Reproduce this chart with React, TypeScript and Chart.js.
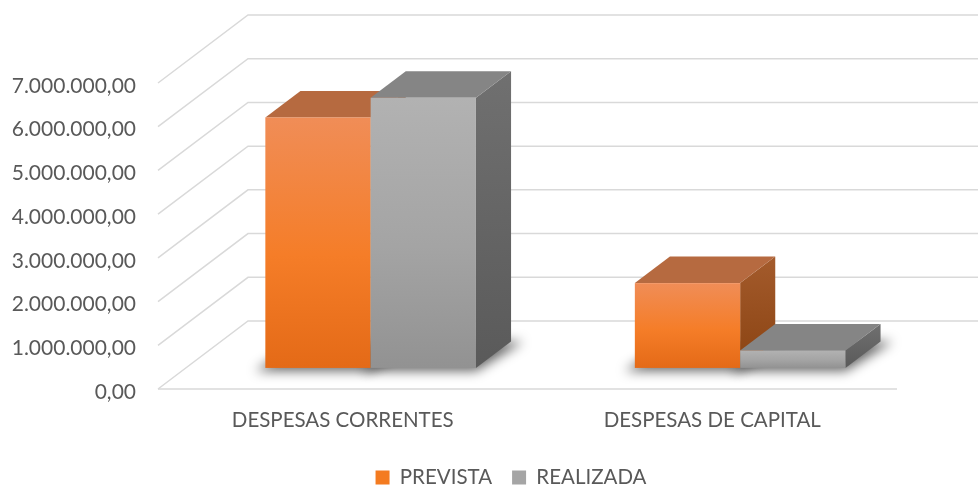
import React, { useEffect, useRef } from 'react';
import { Chart, registerables } from 'chart.js';

Chart.register(...registerables);

// ---- data ----
const categories = ['DESPESAS CORRENTES', 'DESPESAS DE CAPITAL'];
const seriesNames = ['PREVISTA', 'REALIZADA'];
const prevista = [5730000, 1940000];
const realizada = [6180000, 400000];
const yTicks = [0, 1000000, 2000000, 3000000, 4000000, 5000000, 6000000, 7000000];

// ---- styles ----
const FONT = 'Lato';
const TEXT = '#595959';
const GRID = '#D9D9D9';
const DEPTH_X = 90; // floor depth projection
const DEPTH_Y = -68;
const BAR_FRONT = 0.31; // fraction of floor depth where bars start
const BAR_DEPTH = 0.39; // fraction of floor depth occupied by bars
const LEGEND_SHIFT = 62.5; // legend is centred under the plot, not the canvas

const palettes = [
  {
    legend: '#F47B20',
    frontTop: '#F08D57',
    frontMid: '#F57D28',
    frontBottom: '#E46A17',
    top: '#B66A40',
    sideTop: '#A45B2C',
    sideBottom: '#8A4312',
  },
  {
    legend: '#A5A5A5',
    frontTop: '#B2B2B2',
    frontMid: '#A4A4A4',
    frontBottom: '#929292',
    top: '#858585',
    sideTop: '#707070',
    sideBottom: '#5A5A5A',
  },
];

function fmt(v: number): string {
  const s = Math.round(v)
    .toString()
    .replace(/\B(?=(\d{3})+(?!\d))/g, '.');
  return s + ',00';
}

const depthPlugin = {
  id: 'depth3d',
  afterLayout(chart: any) {
    const lg = chart.legend;
    if (lg) {
      lg.left += LEGEND_SHIFT;
      lg.right += LEGEND_SHIFT;
      if (lg.legendHitBoxes) {
        lg.legendHitBoxes.forEach((h: any) => {
          h.left += LEGEND_SHIFT;
        });
      }
    }
  },
  beforeDatasetsDraw(chart: any) {
    const { ctx, chartArea: a, scales } = chart;
    const y = scales.y;
    const W = chart.width;
    ctx.save();

    // walls grid (side wall diagonal + back wall horizontal)
    ctx.strokeStyle = GRID;
    ctx.lineWidth = 1.5;
    for (const v of yTicks) {
      const py = y.getPixelForValue(v);
      ctx.beginPath();
      ctx.moveTo(a.left, py);
      ctx.lineTo(a.left + DEPTH_X, py + DEPTH_Y);
      ctx.lineTo(W, py + DEPTH_Y);
      ctx.stroke();
    }
    const py0 = y.getPixelForValue(0);
    ctx.beginPath();
    ctx.moveTo(a.left, py0);
    ctx.lineTo(a.right, py0);
    ctx.stroke();

    const metas = chart.getSortedVisibleDatasetMetas();
    const ox = BAR_FRONT * DEPTH_X;
    const oy = BAR_FRONT * DEPTH_Y;
    const bx = BAR_DEPTH * DEPTH_X;
    const by = BAR_DEPTH * DEPTH_Y;

    // shadows on floor
    ctx.filter = 'blur(6px)';
    ctx.fillStyle = 'rgba(0,0,0,0.6)';
    metas.forEach((meta: any) => {
      meta.data.forEach((el: any) => {
        const p = el.getProps(['x', 'width', 'base'], true);
        const L = p.x - p.width / 2 + ox;
        const R = p.x + p.width / 2 + ox;
        const B = p.base + oy;
        ctx.beginPath();
        ctx.moveTo(L - 10, B + 3);
        ctx.lineTo(R, B + 3);
        ctx.lineTo(R + bx + 12, B + by);
        ctx.lineTo(L + bx, B + by);
        ctx.closePath();
        ctx.fill();
      });
    });
    ctx.filter = 'none';

    // boxes
    for (let i = 0; i < categories.length; i++) {
      metas.forEach((meta: any, di: number) => {
        const el = meta.data[i];
        if (!el) return;
        const pal = palettes[di % palettes.length];
        const p = el.getProps(['x', 'y', 'width', 'base'], true);
        const L = p.x - p.width / 2 + ox;
        const R = p.x + p.width / 2 + ox;
        const T = p.y + oy;
        const B = p.base + oy;

        // side face
        const sg = ctx.createLinearGradient(0, T + by, 0, B);
        sg.addColorStop(0, pal.sideTop);
        sg.addColorStop(1, pal.sideBottom);
        ctx.fillStyle = sg;
        ctx.beginPath();
        ctx.moveTo(R, T);
        ctx.lineTo(R + bx, T + by);
        ctx.lineTo(R + bx, B + by);
        ctx.lineTo(R, B);
        ctx.closePath();
        ctx.fill();

        // top face
        ctx.fillStyle = pal.top;
        ctx.beginPath();
        ctx.moveTo(L, T);
        ctx.lineTo(R, T);
        ctx.lineTo(R + bx, T + by);
        ctx.lineTo(L + bx, T + by);
        ctx.closePath();
        ctx.fill();

        // front face
        const fg = ctx.createLinearGradient(0, T, 0, B);
        fg.addColorStop(0, pal.frontTop);
        fg.addColorStop(0.55, pal.frontMid);
        fg.addColorStop(1, pal.frontBottom);
        ctx.fillStyle = fg;
        ctx.fillRect(L, T, R - L, B - T);
      });
    }

    ctx.restore();
    return false;
  },
};

export default function App() {
  const ref = useRef<HTMLCanvasElement | null>(null);

  useEffect(() => {
    if (!ref.current) return;
    Chart.defaults.font.family = FONT;
    const chart = new Chart(ref.current, {
      type: 'bar',
      data: {
        labels: categories,
        datasets: [
          {
            label: seriesNames[0],
            data: prevista,
            backgroundColor: palettes[0].legend,
            barPercentage: 1,
            categoryPercentage: 0.57,
          },
          {
            label: seriesNames[1],
            data: realizada,
            backgroundColor: palettes[1].legend,
            barPercentage: 1,
            categoryPercentage: 0.57,
          },
        ],
      },
      options: {
        animation: false,
        responsive: false,
        devicePixelRatio: 1,
        layout: { padding: { top: 83, right: 81, left: 0, bottom: -10.75 } },
        plugins: {
          legend: {
            position: 'bottom',
            labels: {
              boxWidth: 14,
              boxHeight: 14,
              padding: 20,
              color: TEXT,
              font: { family: FONT, size: 20.5 },
            },
          },
          tooltip: { enabled: false },
        },
        scales: {
          x: {
            afterFit: (s: any) => {
              s.height = 58.25;
            },
            grid: { display: false, drawTicks: false },
            border: { display: false },
            ticks: {
              color: TEXT,
              font: { family: FONT, size: 20.5 },
              padding: 19,
            },
          },
          y: {
            min: 0,
            max: 7000000,
            afterFit: (s: any) => {
              s.width = 158;
            },
            afterBuildTicks: (s: any) => {
              s.ticks = yTicks.map((v) => ({ value: v }));
            },
            grid: { display: false, drawTicks: false },
            border: { display: false },
            ticks: {
              color: TEXT,
              font: { family: FONT, size: 21 },
              padding: 22,
              labelOffset: 3,
              callback: (v: any) => fmt(Number(v)),
            },
          },
        },
      },
      plugins: [depthPlugin],
    });
    return () => chart.destroy();
  }, []);

  return (
    <div style={{ position: 'fixed', left: 0, top: 0, width: 978, height: 487, background: '#fff' }}>
      <canvas ref={ref} width={978} height={487} />
    </div>
  );
}
